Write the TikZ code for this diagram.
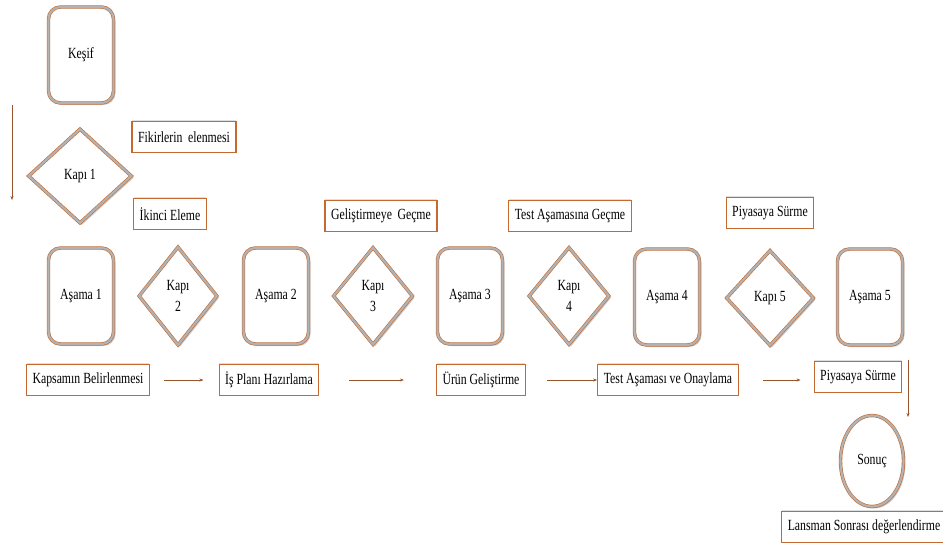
\documentclass[tikz,border=0pt]{standalone}
\usepackage{fontspec}
\setmainfont[FakeStretch=0.76]{Liberation Serif}
\usetikzlibrary{shapes.geometric,shadows,arrows.meta}
\definecolor{kenar}{RGB}{196,106,48}
\definecolor{okrenk}{RGB}{150,85,45}
\tikzset{
	golge/.style={drop shadow={shadow xshift=2pt, shadow yshift=-2pt, fill=gray!40, opacity=1}},
	asama/.style={rectangle, rounded corners=12pt, minimum width=65pt, minimum height=96pt, fill=white, draw=kenar, line width=0.6pt, double=gray!60, double distance=2.2pt, golge},
	kapi/.style={diamond, inner sep=0pt, align=center, fill=white, draw=kenar, line width=0.6pt, double=gray!60, double distance=2.2pt, golge},
	sonuc/.style={ellipse, minimum width=63pt, minimum height=91pt, fill=white, draw=kenar, line width=0.6pt, double=gray!60, double distance=2.2pt, golge},
	etiket/.style={rectangle, fill=white, draw=kenar, line width=1.3pt, minimum height=31pt, inner xsep=6pt, drop shadow={shadow xshift=0pt, shadow yshift=2pt, fill=gray!25, opacity=1}},
	akis/.style={draw=okrenk, line width=0.9pt, -{Stealth[length=4pt, width=3pt]}}
}

\begin{document}
\begin{tikzpicture}[x=1pt, y=-1pt, font=\fontsize{15.5}{21}\selectfont]
			%%%%% START %%%%%
			\useasboundingbox (0,0) rectangle (943,550);
			
			% ust kisim
			\node[asama] (kesif) at (81,55) {Keşif};
			\node[kapi, minimum width=103pt, minimum height=94pt] (kapi1) at (80,176) {Kapı 1};
			\node[etiket] (fikir) at (184,137) {Fikirlerin\, elenmesi};
			\node[etiket] (ikinci) at (170,214) {İkinci Eleme};
			\coordinate (solust) at (12,105);
			\coordinate (solalt) at (12,200);
			\draw[akis] (solust) -- (solalt);
			
			% asamalar ve kapilar
			\node[asama] (asama1) at (81,296) {Aşama 1};
			\node[kapi, minimum width=78pt, minimum height=98pt] (kapi2) at (178,296) {Kapı\\2};
			\node[asama] (asama2) at (276,296) {Aşama 2};
			\node[kapi, minimum width=79pt, minimum height=97pt] (kapi3) at (373,296) {Kapı\\3};
			\node[asama] (asama3) at (470,296) {Aşama 3};
			\node[kapi, minimum width=80pt, minimum height=97pt] (kapi4) at (569,296) {Kapı\\4};
			\node[asama] (asama4) at (667,297) {Aşama 4};
			\node[kapi, minimum width=87pt, minimum height=95pt] (kapi5) at (770,298) {Kapı 5};
			\node[asama] (asama5) at (870,297) {Aşama 5};
			
			% kapi etiketleri
			\node[etiket] (gecme3) at (381,216) {Geliştirmeye\, Geçme};
			\node[etiket] (gecme4) at (570,216) {Test Aşamasına Geçme};
			\node[etiket] (gecme5) at (770,213) {Piyasaya Sürme};
			
			% alt sira
			\node[etiket] (kapsam) at (88,380) {Kapsamın Belirlenmesi};
			\node[etiket] (plan) at (269,380) {İş Planı Hazırlama};
			\node[etiket] (urun) at (481,380) {Ürün Geliştirme};
			\node[etiket] (test) at (668,380) {Test Aşaması ve Onaylama};
			\node[etiket] (piyasa) at (858,377) {Piyasaya Sürme};
			
			\draw[akis, shorten <=14pt, shorten >=15pt] (kapsam) -- (plan);
			\draw[akis, shorten <=30pt, shorten >=32pt] (plan) -- (urun);
			\draw[akis, shorten <=21pt] (urun) -- (test);
			\draw[akis, shorten <=24pt, shorten >=13pt] (test.east) -- (piyasa.west |- test.east);
			
			% sonuc
			\coordinate (sagust) at (908,360);
			\coordinate (sagalt) at (908,417);
			\draw[akis] (sagust) -- (sagalt);
			\node[sonuc] (sonuc) at (872,461) {Sonuç};
			\node[etiket] (lansman) at (864,527) {Lansman Sonrası değerlendirme};
			%%%%% END %%%%%
\end{tikzpicture}
\end{document}
